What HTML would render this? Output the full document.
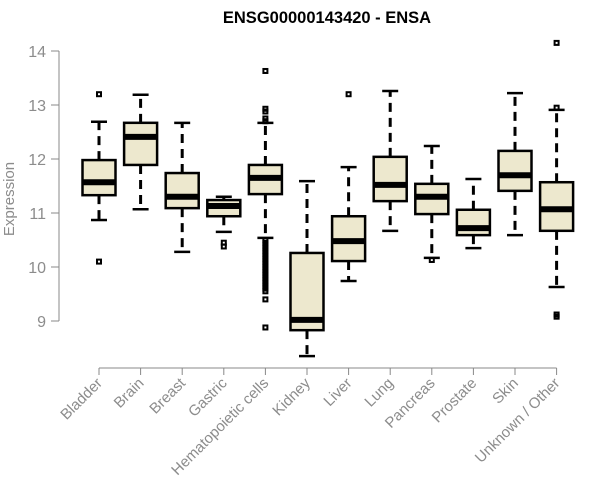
<!DOCTYPE html>
<html><head><meta charset="utf-8"><style>
body{margin:0;background:#fff}
svg{display:block;font-family:"Liberation Sans",Arial,sans-serif}
</style></head><body>
<svg id="c" width="600" height="500" viewBox="0 0 600 500" xmlns="http://www.w3.org/2000/svg">
<text x="327" y="23" text-anchor="middle" font-size="16.5" font-weight="bold">ENSG00000143420 - ENSA</text>
<text transform="translate(14,199) rotate(-90)" text-anchor="middle" font-size="15" fill="#8c8c8c">Expression</text>
<g id="g"></g>
</svg>
<script>
const categories=["Bladder","Brain","Breast","Gastric","Hematopoietic cells","Kidney","Liver","Lung","Pancreas","Prostate","Skin","Unknown / Other"];
const whiskerLow=[10.87,11.07,10.28,10.65,10.54,8.35,9.74,10.67,10.17,10.35,10.59,9.63];
const q1=[11.33,11.89,11.09,10.94,11.35,8.83,10.11,11.22,10.98,10.59,11.41,10.67];
const medians=[11.57,12.41,11.30,11.13,11.65,9.02,10.48,11.52,11.30,10.72,11.70,11.07];
const q3=[11.98,12.67,11.74,11.24,11.89,10.26,10.94,12.04,11.54,11.06,12.15,11.57];
const whiskerHigh=[12.69,13.19,12.67,11.30,12.67,11.59,11.85,13.26,12.24,11.63,13.22,12.91];
const outliers=[[13.2,10.1],[],[],[10.45,10.38],[13.63,12.93,12.88,12.75,12.7,10.5,10.45,10.4,10.35,10.3,10.25,10.2,10.15,10.1,10.05,10.0,9.95,9.9,9.85,9.8,9.75,9.7,9.65,9.6,9.55,9.4,8.88],[],[13.2],[],[10.13],[],[],[14.15,12.95,9.12,9.08]];
const yTicks=[9,10,11,12,13,14];
const NS="http://www.w3.org/2000/svg";
const g=document.getElementById('g');
const y=v=>51+(14-v)*54;
const x=i=>99+i*41.6;
function mk(t,a,p){const e=document.createElementNS(NS,t);for(const k in a)e.setAttribute(k,a[k]);(p||g).appendChild(e);return e;}
let ax=mk('line',{x1:59,x2:59,y1:y(9),y2:y(14),stroke:'#888'});


yTicks.forEach(t=>{
 let l=mk('line',{x1:51,x2:59,y1:y(t),y2:y(t),stroke:'#888'});
 
 
 let tx=mk('text',{x:46,y:y(t)+6,'text-anchor':'end','font-size':16,fill:'#8c8c8c'});
 tx.textContent=t;
 
 
});
let xa=mk('line',{x1:x(0),x2:x(11),y1:368,y2:368,stroke:'#888'});


categories.forEach((c,i)=>{
 const cx=x(i),w=16.5;
 let grp=mk('g',{});
 
 
 mk('line',{x1:cx,x2:cx,y1:y(q3[i]),y2:y(whiskerHigh[i]),stroke:'#000','stroke-width':3,'stroke-dasharray':'9,6'},grp);
 mk('line',{x1:cx,x2:cx,y1:y(q1[i]),y2:y(whiskerLow[i]),stroke:'#000','stroke-width':3,'stroke-dasharray':'9,6'},grp);
 mk('line',{x1:cx-8,x2:cx+8,y1:y(whiskerHigh[i]),y2:y(whiskerHigh[i]),stroke:'#000','stroke-width':2.5},grp);
 mk('line',{x1:cx-8,x2:cx+8,y1:y(whiskerLow[i]),y2:y(whiskerLow[i]),stroke:'#000','stroke-width':2.5},grp);
 mk('rect',{x:cx-w,y:y(q3[i]),width:2*w,height:y(q1[i])-y(q3[i]),fill:'#ede8ce',stroke:'#000','stroke-width':2.5},grp);
 mk('line',{x1:cx-w,x2:cx+w,y1:y(medians[i]),y2:y(medians[i]),stroke:'#000','stroke-width':6},grp);
 outliers[i].forEach(o=>{mk('rect',{x:cx-2,y:y(o)-2,width:4,height:4,fill:'none',stroke:'#000','stroke-width':2},grp);});
 let t=mk('line',{x1:cx,x2:cx,y1:368,y2:375,stroke:'#888'});
 
 
 let tx=mk('text',{transform:`translate(${cx+4},${384}) rotate(-45)`,'text-anchor':'end','font-size':15,fill:'#8c8c8c'});
 tx.textContent=c;
 
 
});
</script>
</body></html>
